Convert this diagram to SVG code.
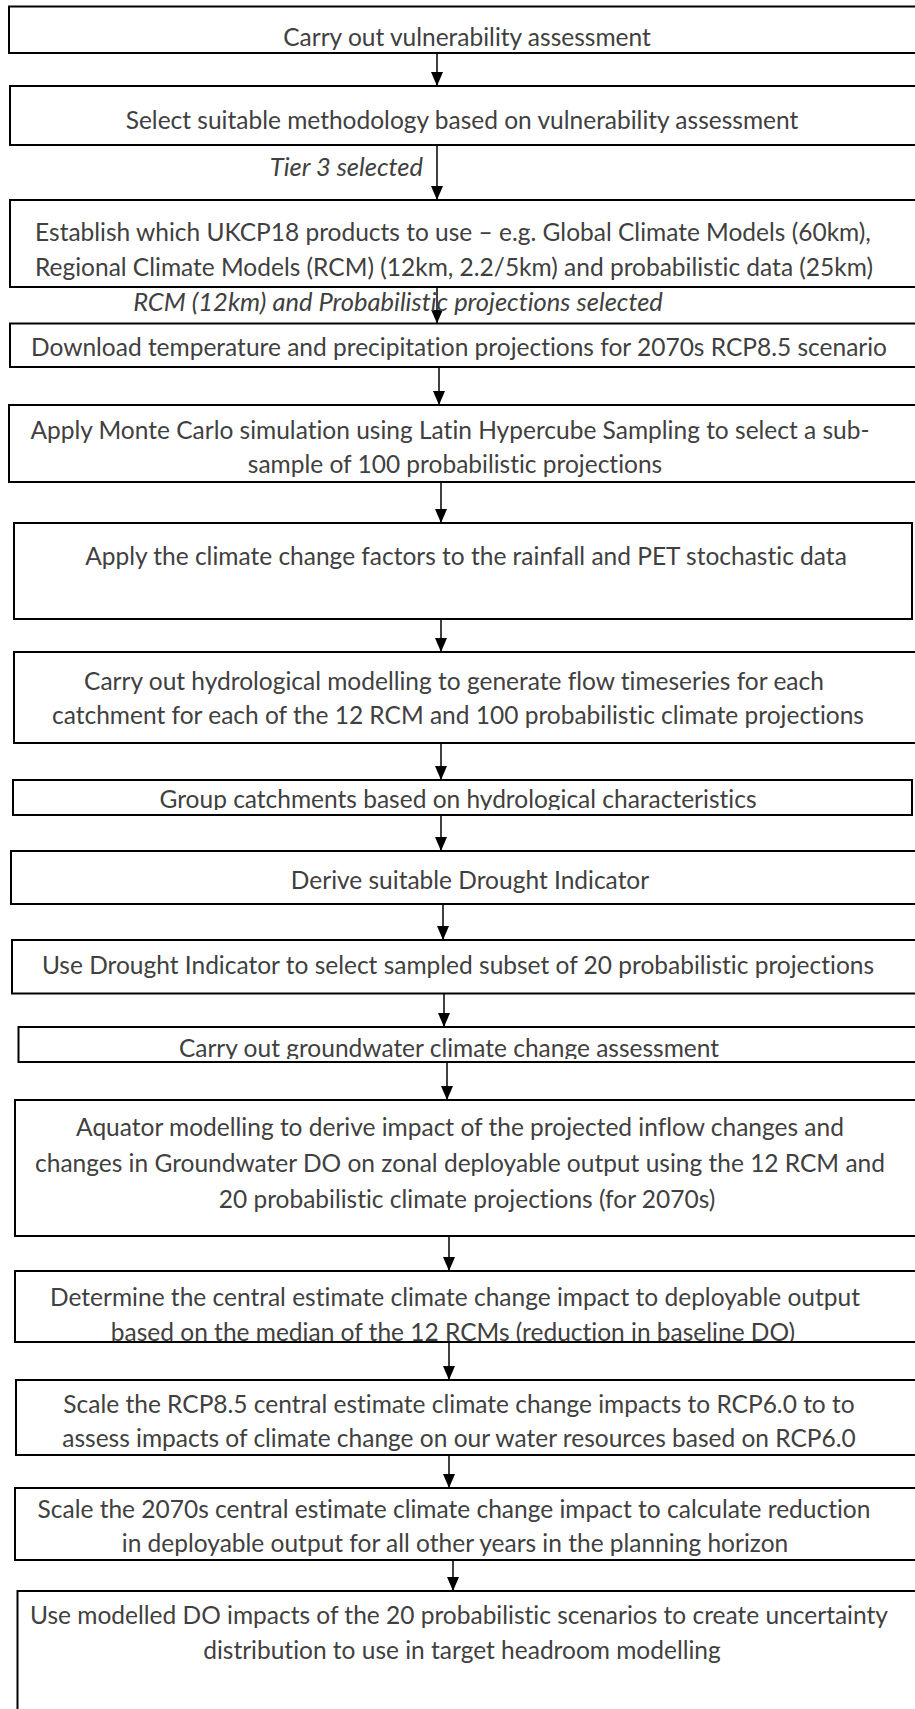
<svg xmlns="http://www.w3.org/2000/svg" width="915" height="1709" viewBox="0 0 915 1709">
<style>
  .box { fill: #ffffff; stroke: #000000; stroke-width: 2; }
  .t { font-family: Lato, "Liberation Sans", sans-serif; font-size: 24.5px; fill: #404040; text-anchor: middle; font-variant-ligatures: none; }
  .lbl { font-family: Lato, "Liberation Sans", sans-serif; font-size: 25.5px; fill: #404040; font-style: italic; font-variant-ligatures: none; }
  .conn { stroke: #000000; stroke-width: 1.5; fill: none; marker-end: url(#ah); }
</style>
<defs>
  <marker id="ah" markerUnits="userSpaceOnUse" markerWidth="14" markerHeight="12" refX="14" refY="6" orient="auto">
    <path d="M0,0 L14,6 L0,12 z" fill="#000000"/>
  </marker>
  <clipPath id="c8"><rect x="0" y="780" width="915" height="30"/></clipPath>
  <clipPath id="c11"><rect x="0" y="1027" width="915" height="32"/></clipPath>
  <clipPath id="c13"><rect x="0" y="1271" width="915" height="70"/></clipPath>
</defs>
<rect x="0" y="0" width="915" height="1709" fill="#ffffff"/>

<g id="connectors">
  <line class="conn" x1="437" y1="53" x2="437" y2="86"/>
  <line class="conn" x1="437" y1="145" x2="437" y2="200"/>
  <line class="conn" x1="437" y1="287" x2="437" y2="323.5"/>
  <line class="conn" x1="439" y1="367" x2="439" y2="405"/>
  <line class="conn" x1="441" y1="482" x2="441" y2="523"/>
  <line class="conn" x1="441" y1="619" x2="441" y2="652"/>
  <line class="conn" x1="441" y1="743" x2="441" y2="780"/>
  <line class="conn" x1="441" y1="815" x2="441" y2="851"/>
  <line class="conn" x1="443" y1="904" x2="443" y2="940"/>
  <line class="conn" x1="444" y1="993.5" x2="444" y2="1027"/>
  <line class="conn" x1="447" y1="1062" x2="447" y2="1100"/>
  <line class="conn" x1="449" y1="1236" x2="449" y2="1271"/>
  <line class="conn" x1="449" y1="1342" x2="449" y2="1380"/>
  <line class="conn" x1="449" y1="1455" x2="449" y2="1488"/>
  <line class="conn" x1="453" y1="1560" x2="453" y2="1591"/>
  <text class="lbl" x="423" y="176" text-anchor="end">Tier 3 selected</text>
  <text class="lbl" x="398" y="311" text-anchor="middle">RCM (12km) and Probabilistic projections selected</text>
</g>

<g id="n1">
  <rect class="box" x="9" y="6.5" width="911" height="46.5"/>
  <text class="t" x="467" y="46">Carry out vulnerability assessment</text>
</g>
<g id="n2">
  <rect class="box" x="10" y="86" width="910" height="59"/>
  <text class="t" x="462" y="129">Select suitable methodology based on vulnerability assessment</text>
</g>
<g id="n3">
  <rect class="box" x="10" y="200" width="910" height="87"/>
  <text class="t" x="453" y="241">Establish which UKCP18 products to use – e.g. Global Climate Models (60km),</text>
  <text class="t" x="454" y="276">Regional Climate Models (RCM) (12km, 2.2/5km) and probabilistic data (25km)</text>
</g>
<g id="n4">
  <rect class="box" x="10" y="323.5" width="910" height="43.5"/>
  <text class="t" x="459" y="355.5">Download temperature and precipitation projections for 2070s RCP8.5 scenario</text>
</g>
<g id="n5">
  <rect class="box" x="9" y="405" width="911" height="77"/>
  <text class="t" x="450" y="439">Apply Monte Carlo simulation using Latin Hypercube Sampling to select a sub-</text>
  <text class="t" x="455" y="473">sample of 100 probabilistic projections</text>
</g>
<g id="n6">
  <rect class="box" x="14" y="523" width="898" height="96"/>
  <text class="t" x="466" y="565">Apply the climate change factors to the rainfall and PET stochastic data</text>
</g>
<g id="n7">
  <rect class="box" x="14" y="652" width="906" height="91"/>
  <text class="t" x="454" y="690">Carry out hydrological modelling to generate flow timeseries for each</text>
  <text class="t" x="458" y="724">catchment for each of the 12 RCM and 100 probabilistic climate projections</text>
</g>
<g id="n8">
  <rect class="box" x="13" y="780" width="899" height="35"/>
  <text class="t" x="458" y="807.5" clip-path="url(#c8)">Group catchments based on hydrological characteristics</text>
</g>
<g id="n9">
  <rect class="box" x="11" y="851" width="909" height="53"/>
  <text class="t" x="470" y="889">Derive suitable Drought Indicator</text>
</g>
<g id="n10">
  <rect class="box" x="12" y="940" width="908" height="53.5"/>
  <text class="t" x="458" y="974">Use Drought Indicator to select sampled subset of 20 probabilistic projections</text>
</g>
<g id="n11">
  <rect class="box" x="18.5" y="1027" width="901.5" height="35"/>
  <text class="t" x="449" y="1057" clip-path="url(#c11)">Carry out groundwater climate change assessment</text>
</g>
<g id="n12">
  <rect class="box" x="15" y="1100" width="905" height="136"/>
  <text class="t" x="460" y="1136">Aquator modelling to derive impact of the projected inflow changes and</text>
  <text class="t" x="460" y="1172">changes in Groundwater DO on zonal deployable output using the 12 RCM and</text>
  <text class="t" x="467" y="1208">20 probabilistic climate projections (for 2070s)</text>
</g>
<g id="n13">
  <rect class="box" x="15" y="1271" width="905" height="71"/>
  <g clip-path="url(#c13)">
    <text class="t" x="455" y="1306">Determine the central estimate climate change impact to deployable output</text>
    <text class="t" x="453" y="1341">based on the median of the 12 RCMs (reduction in baseline DO)</text>
  </g>
</g>
<g id="n14">
  <rect class="box" x="16" y="1380" width="904" height="75"/>
  <text class="t" x="459" y="1413">Scale the RCP8.5 central estimate climate change impacts to RCP6.0 to to</text>
  <text class="t" x="459" y="1447">assess impacts of climate change on our water resources based on RCP6.0</text>
</g>
<g id="n15">
  <rect class="box" x="15" y="1488" width="905" height="72"/>
  <text class="t" x="454" y="1518">Scale the 2070s central estimate climate change impact to calculate reduction</text>
  <text class="t" x="455" y="1552">in deployable output for all other years in the planning horizon</text>
</g>
<g id="n16">
  <rect class="box" x="17.5" y="1591" width="902.5" height="140"/>
  <text class="t" x="459" y="1624">Use modelled DO impacts of the 20 probabilistic scenarios to create uncertainty</text>
  <text class="t" x="462" y="1659">distribution to use in target headroom modelling</text>
</g>
</svg>
